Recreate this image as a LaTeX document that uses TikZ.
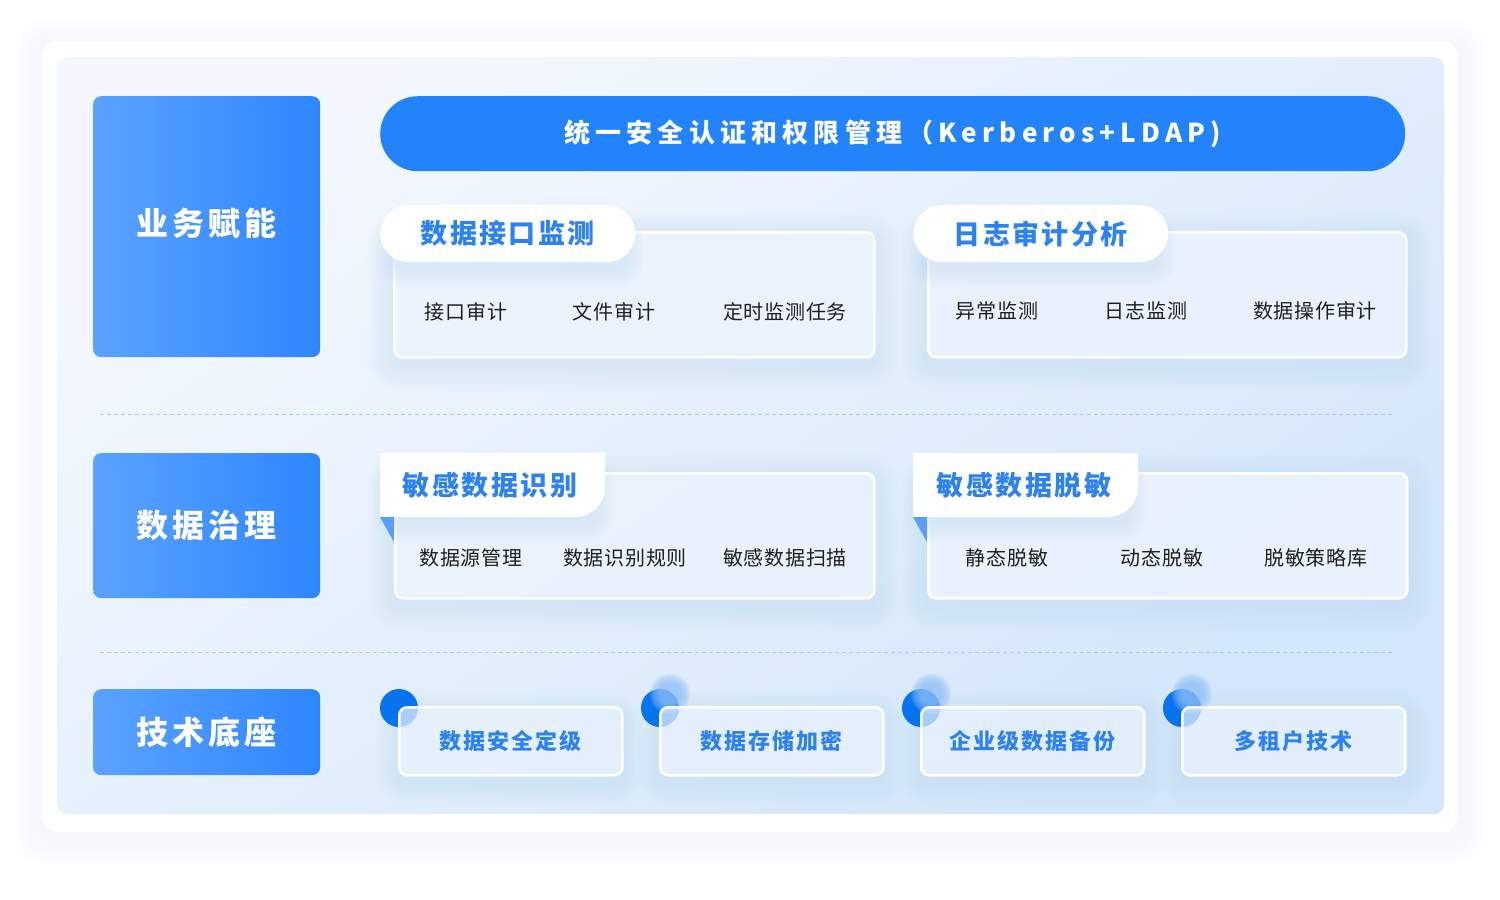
\documentclass[tikz,border=0pt]{standalone}
\usepackage{fontspec}
\setmainfont{Noto Sans CJK SC}
\usetikzlibrary{calc}

\definecolor{boxlight}{HTML}{5AA2FF}
\definecolor{boxdark}{HTML}{2E86FF}
\definecolor{bannerblue}{HTML}{2383FB}
\definecolor{tabblue}{HTML}{2C82F2}
\definecolor{itemgray}{HTML}{1F1F1F}
\definecolor{dotblue}{HTML}{0773EE}
\definecolor{dotglow}{HTML}{8EC0F8}
\definecolor{dashblue}{HTML}{A3CBF4}
\definecolor{triblue}{HTML}{5A9DF5}
\definecolor{cardfill}{HTML}{EEF5FE}
\definecolor{panelA}{HTML}{F4F8FE}
\definecolor{panelB}{HTML}{D3E6FA}
\definecolor{glowblue}{HTML}{B9D6F6}
\definecolor{haze}{HTML}{DCE6F5}

% soft glow: x1,y1,x2,y2,spread,style
\newcommand\glow[6]{%
  \foreach \g in {1,...,8}{%
    \pgfmathsetmacro\gs{\g*#5/8}
    \pgfmathsetmacro\gr{\gs+6}
    \fill[#6, opacity=0.045, rounded corners=\gr pt] (#1-\gs,#2-\gs) rectangle (#3+\gs,#4+\gs);
  }}

\begin{document}
\begin{tikzpicture}[x=1pt,y=-1pt,
  lbox/.style={rounded corners=8pt, left color=boxlight, right color=boxdark, text=white,
    minimum width=227pt, anchor=north west,
    font=\fontsize{32}{32}\selectfont\bfseries\addfontfeature{LetterSpace=13}},
  banner/.style={fill=bannerblue, rounded corners=37.5pt, text=white, anchor=north west,
    minimum width=1025pt, minimum height=75pt,
    font=\fontsize{26}{26}\selectfont\bfseries\addfontfeature{LetterSpace=20}},
  card/.style={draw=white, line width=2.5pt, fill=cardfill, fill opacity=0.85,
    rounded corners=8pt, anchor=north west},
  pilltab/.style={fill=white, rounded corners=28.5pt, text=tabblue, anchor=north west,
    minimum width=255pt, minimum height=57pt,
    font=\fontsize{27}{27}\selectfont\bfseries\addfontfeature{LetterSpace=9}},
  tabtext/.style={text=tabblue, font=\fontsize{27}{27}\selectfont\bfseries\addfontfeature{LetterSpace=9}},
  item/.style={text=itemgray, font=\fontsize{20}{20}\selectfont\addfontfeature{LetterSpace=4}},
  techcard/.style={draw=white, line width=2.5pt, fill=cardfill, fill opacity=0.7,
    rounded corners=8pt, anchor=north west, minimum width=223pt, minimum height=68pt},
  techtext/.style={text=tabblue, font=\fontsize{22}{22}\selectfont\bfseries\addfontfeature{LetterSpace=9}},
  sep/.style={dashblue, line width=1pt, dash pattern=on 4pt off 3pt}]

\useasboundingbox (0,0) rectangle (1500,900);

% outer card and panel
\glow{42}{41}{1458}{832}{30}{haze, yshift=-6pt}
\fill[white, rounded corners=16pt] (42,41) rectangle (1458,832);
\shade[rounded corners=10pt, top color=panelA, bottom color=panelB, shading angle=35] (57,57) rectangle (1444,814);

% left column
\node[lbox, minimum height=261pt, text depth=10pt] (biz) at (93,96) {业务赋能};
\node[lbox, minimum height=145pt] (gov) at (93,453) {数据治理};
\node[lbox, minimum height=86pt] (base) at (93,689) {技术底座};

% unified auth banner
\node[banner] (auth) at (380,96) {统一安全认证和权限管理（Kerberos+LDAP)};

% separators
\coordinate (s1a) at (100,414); \coordinate (s1b) at (1393,414);
\coordinate (s2a) at (100,652); \coordinate (s2b) at (1393,652);
\draw[sep] (s1a) -- (s1b);
\draw[sep] (s2a) -- (s2b);

% row 1
\glow{393}{231}{873}{356}{26}{glowblue, yshift=-8pt}
\glow{927}{231}{1405}{356}{26}{glowblue, yshift=-8pt}
\node[card, minimum width=480pt, minimum height=125pt] (ifmon) at (393,231) {};
\node[card, minimum width=478pt, minimum height=125pt] (logaud) at (927,231) {};
\glow{395}{225}{625}{262}{18}{glowblue, yshift=-6pt}
\glow{928}{225}{1157}{262}{18}{glowblue, yshift=-6pt}
\node[pilltab] (tabA) at (380,205) {数据接口监测};
\node[pilltab] (tabB) at (913,205) {日志审计分析};

\node[item] (a1) at (466,312) {接口审计};
\node[item] (a2) at (614,312) {文件审计};
\node[item] (a3) at (785,312) {定时监测任务};
\node[item] (b1) at (997,311) {异常监测};
\node[item] (b2) at (1146,311) {日志监测};
\node[item] (b3) at (1315,311) {数据操作审计};

% row 2
\glow{394}{472}{873}{597}{26}{glowblue, yshift=-8pt}
\glow{927}{472}{1406}{597}{26}{glowblue, yshift=-8pt}
\node[card, minimum width=479pt, minimum height=125pt] (sensid) at (394,472) {};
\node[card, minimum width=479pt, minimum height=125pt] (mask) at (927,472) {};
\glow{392}{470}{595}{517}{18}{glowblue, yshift=-6pt}
\glow{925}{470}{1128}{517}{18}{glowblue, yshift=-6pt}
\fill[white] (380,453) -- (605,453) [rounded corners=30pt] -- (605,517) [sharp corners] -- (380,517) -- cycle;
\fill[white] (913,453) -- (1138,453) [rounded corners=30pt] -- (1138,517) [sharp corners] -- (913,517) -- cycle;
\fill[triblue] (380,517) -- (394,517) -- (394,542) -- cycle;
\fill[triblue] (913,517) -- (927,517) -- (927,542) -- cycle;
\node[tabtext] (tabC) at (490,485) {敏感数据识别};
\node[tabtext] (tabD) at (1024,485) {敏感数据脱敏};

\node[item] (c1) at (471,558) {数据源管理};
\node[item] (c2) at (625,558) {数据识别规则};
\node[item] (c3) at (785,558) {敏感数据扫描};
\node[item] (d1) at (1007,558) {静态脱敏};
\node[item] (d2) at (1162,558) {动态脱敏};
\node[item] (d3) at (1316,558) {脱敏策略库};

% row 3
\foreach \x/\nm/\txt/\gl in {398/lvl/数据安全定级/0, 659/enc/数据存储加密/1, 920/bak/企业级数据备份/1, 1181/ten/多租户技术/1}{
  \glow{\x}{706}{\x+223}{774}{22}{glowblue, yshift=-8pt}
  \fill[dotblue] (\x+1,708) circle[radius=19];
  \ifnum\gl=1
    \foreach \g in {1,...,7}
      \fill[dotglow, opacity=0.2] (\x+11,694) circle[radius=9+\g*1.6];
  \fi
  \node[techcard] (\nm) at (\x,706) {};
  \node[techtext] at (\nm.center) {\txt};
}
\end{tikzpicture}
\end{document}
